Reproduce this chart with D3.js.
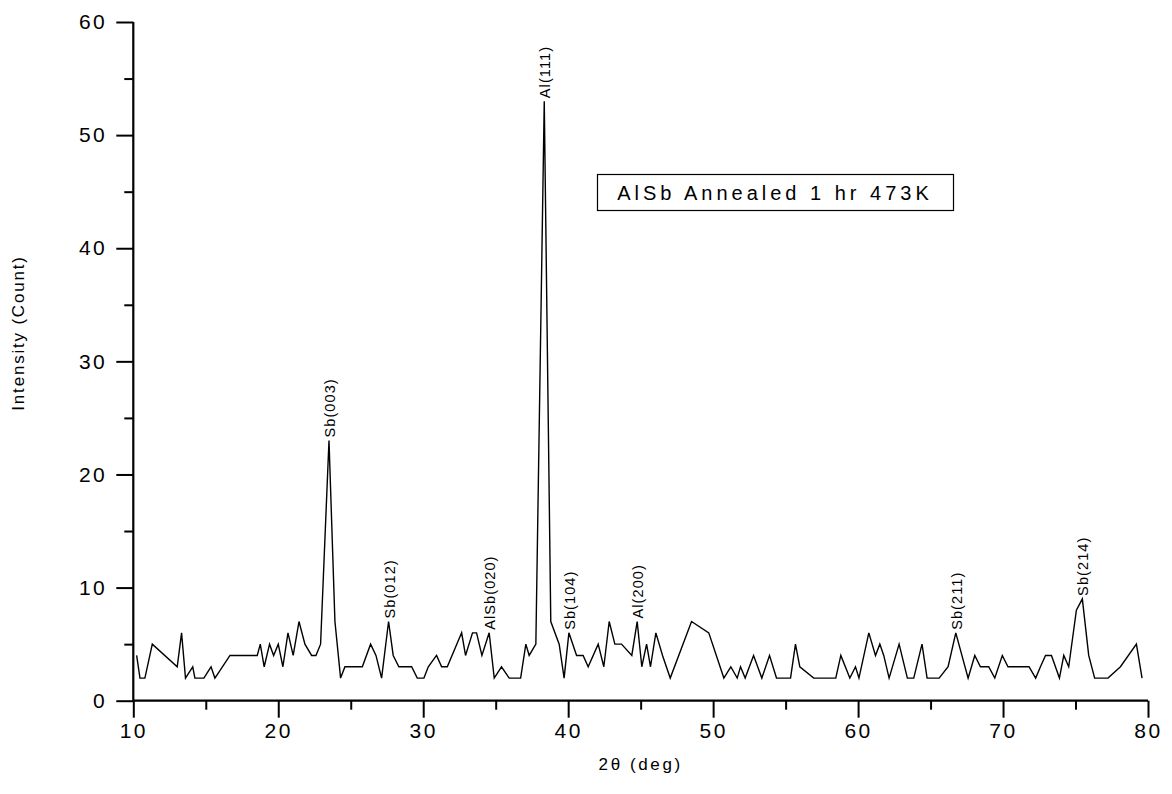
<!DOCTYPE html>
<html>
<head>
<meta charset="utf-8">
<script src="https://cdn.jsdelivr.net/npm/d3@7"></script>
<style>
  html, body { margin: 0; padding: 0; background: #fff; }
  svg { display: block; }
  text { font-family: "Liberation Sans", Arial, sans-serif; fill: #000; }
</style>
</head>
<body>
<div id="chart"></div>
<script>
// XRD pattern: 2θ (deg) and intensity (count)
const twoTheta = [
  10.23, 10.46, 10.80, 11.31, 13.03, 13.33, 13.60, 14.10, 14.25, 14.87,
  15.36, 15.63, 16.67, 18.55, 18.76, 19.03, 19.40, 19.68, 20.00, 20.32,
  20.67, 21.03, 21.43, 21.84, 22.30, 22.60, 22.92, 23.50, 23.91, 24.30,
  24.60, 25.80, 26.37, 26.74, 27.13, 27.61, 27.93, 28.32, 29.20, 29.59,
  30.05, 30.35, 30.92, 31.27, 31.66, 32.65, 32.92, 33.40, 33.68, 34.05,
  34.55, 34.90, 35.40, 35.93, 36.72, 37.08, 37.31, 37.77, 38.35, 38.80,
  39.38, 39.72, 40.05, 40.58, 41.03, 41.38, 42.07, 42.46, 42.83, 43.22,
  43.68, 44.39, 44.76, 45.08, 45.41, 45.68, 46.05, 46.51, 47.04, 48.51,
  49.70, 50.74, 51.22, 51.66, 51.89, 52.21, 52.79, 53.36, 53.89, 54.37,
  55.34, 55.68, 55.98, 56.94, 58.46, 58.81, 59.43, 59.82, 60.06, 60.74,
  61.20, 61.50, 61.77, 62.14, 62.83, 63.40, 63.84, 64.41, 64.76, 65.59,
  66.21, 66.74, 67.59, 68.05, 68.44, 69.01, 69.43, 69.95, 70.34, 71.79,
  72.25, 72.58, 72.93, 73.34, 73.89, 74.19, 74.53, 75.06, 75.47, 75.91,
  76.32, 77.24, 78.10, 79.20, 79.59
];
const intensity = [
  4, 2, 2, 5, 3, 6, 2, 3, 2, 2,
  3, 2, 4, 4, 5, 3, 5, 4, 5, 3,
  6, 4, 7, 5, 4, 4, 5, 23, 7, 2,
  3, 3, 5, 4, 2, 7, 4, 3, 3, 2,
  2, 3, 4, 3, 3, 6, 4, 6, 6, 4,
  6, 2, 3, 2, 2, 5, 4, 5, 53, 7,
  5, 2, 6, 4, 4, 3, 5, 3, 7, 5,
  5, 4, 7, 3, 5, 3, 6, 4, 2, 7,
  6, 2, 3, 2, 3, 2, 4, 2, 4, 2,
  2, 5, 3, 2, 2, 4, 2, 3, 2, 6,
  4, 5, 4, 2, 5, 2, 2, 5, 2, 2,
  3, 6, 2, 4, 3, 3, 2, 4, 3, 3,
  2, 3, 4, 4, 2, 4, 3, 8, 9, 4,
  2, 2, 3, 5, 2
];

// Reflection labels and the 2θ of the peak they annotate
const peakNames = ["Sb(003)", "Sb(012)", "AlSb(020)", "Al(111)", "Sb(104)", "Al(200)", "Sb(211)", "Sb(214)"];
const peakTheta = [23.50, 27.61, 34.55, 38.35, 40.05, 44.76, 66.74, 75.47];

const xTicks = [10, 20, 30, 40, 50, 60, 70, 80];
const yTicks = [0, 10, 20, 30, 40, 50, 60];
const legendText = "AlSb Annealed 1 hr 473K";

const W = 1172, H = 794;
const svg = d3.select("#chart").append("svg").attr("width", W).attr("height", H);

const x = d3.scaleLinear().domain([10, 80]).range([133.3, 1148]);
const y = d3.scaleLinear().domain([0, 60]).range([700.7, 22]);

const points = twoTheta.map((t, i) => [t, intensity[i]]);

// data trace
svg.append("path")
  .datum(points)
  .attr("fill", "none")
  .attr("stroke", "#000")
  .attr("stroke-width", 1.4)
  .attr("stroke-linejoin", "miter")
  .attr("d", d3.line().x(d => x(d[0])).y(d => y(d[1])));

// axes
const axisStroke = 2.2;
const xAxis = svg.append("g").attr("transform", `translate(0,${y(0)})`)
  .call(d3.axisBottom(x).tickValues(xTicks).tickSize(17).tickPadding(5).tickFormat(d3.format("d")));
const xMinor = svg.append("g").attr("transform", `translate(0,${y(0)})`)
  .call(d3.axisBottom(x).tickValues(d3.range(15, 80, 10)).tickSize(9).tickFormat(""));
const yAxis = svg.append("g").attr("transform", `translate(${x(10)},0)`)
  .call(d3.axisLeft(y).tickValues(yTicks).tickSize(17).tickPadding(9).tickFormat(d3.format("d")));
const yMinor = svg.append("g").attr("transform", `translate(${x(10)},0)`)
  .call(d3.axisLeft(y).tickValues(d3.range(5, 60, 10)).tickSize(9).tickFormat(""));

[xAxis, xMinor, yAxis, yMinor].forEach(g => {
  g.select(".domain").attr("stroke", "#000").attr("stroke-width", axisStroke);
  g.selectAll(".tick line").attr("stroke", "#000").attr("stroke-width", 2);
  g.selectAll(".tick text")
    .style("font-family", "'Liberation Sans', Arial, sans-serif")
    .style("font-size", "21px")
    .style("letter-spacing", "2.5px")
    .attr("fill", "#000");
});
// no outer tick stubs on the domain paths
xAxis.select(".domain").attr("d", `M${x(10)},0H${x(80)}`);
xMinor.select(".domain").remove();
yAxis.select(".domain").attr("d", `M0,${y(0)}V${y(60)}`);
yMinor.select(".domain").remove();

// axis titles
svg.append("text")
  .attr("x", (x(10) + x(80)) / 2)
  .attr("y", 770)
  .attr("text-anchor", "middle")
  .style("font-size", "17px")
  .style("letter-spacing", "2.6px")
  .text("2θ (deg)");

svg.append("text")
  .attr("transform", `translate(24,333) rotate(-90)`)
  .attr("text-anchor", "middle")
  .style("font-size", "17px")
  .style("letter-spacing", "1.8px")
  .text("Intensity (Count)");

// peak labels, written upward from just above each peak
const peakValue = t => intensity[twoTheta.indexOf(t)];
svg.append("g").selectAll("text")
  .data(peakNames)
  .join("text")
  .attr("transform", (d, i) => `translate(${x(peakTheta[i]) + 6},${y(peakValue(peakTheta[i])) - 3}) rotate(-90)`)
  .attr("text-anchor", "start")
  .style("font-size", "14.5px")
  .style("letter-spacing", "1.1px")
  .text(d => d);

// legend box
const lg = svg.append("g");
lg.append("rect")
  .attr("x", 597.5).attr("y", 174.5)
  .attr("width", 356).attr("height", 36)
  .attr("fill", "#fff").attr("stroke", "#000").attr("stroke-width", 1.2);
lg.append("text")
  .attr("x", 775).attr("y", 200)
  .attr("text-anchor", "middle")
  .style("font-size", "20px")
  .style("letter-spacing", "4px")
  .text(legendText);
</script>
</body>
</html>
